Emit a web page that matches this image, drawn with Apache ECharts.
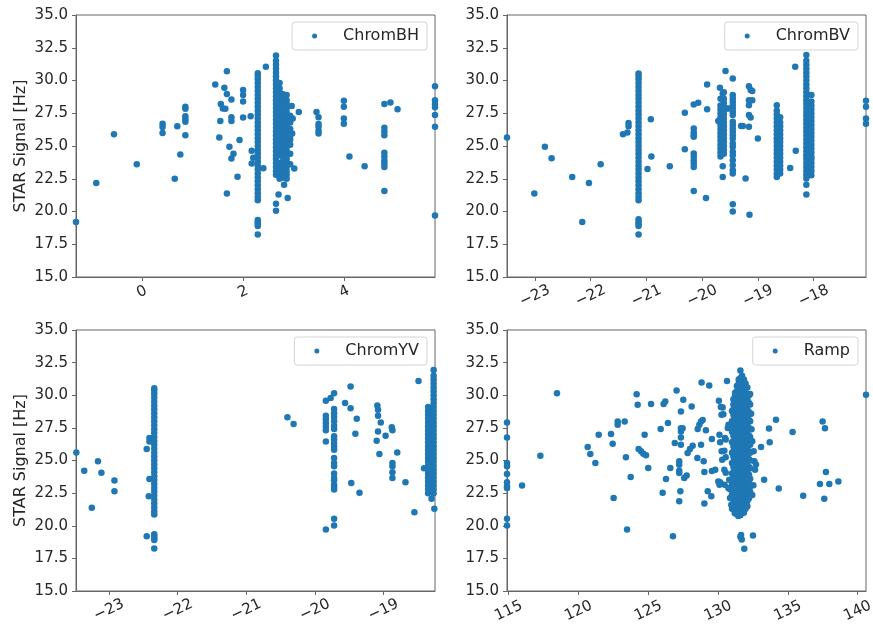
<!DOCTYPE html>
<html>
<head>
<meta charset="utf-8">
<script src="https://cdn.jsdelivr.net/npm/echarts@6/dist/echarts.min.js"></script>
<style>
html,body{margin:0;padding:0;background:#fff;}
#chart{width:873px;height:628px;}
</style>
</head>
<body>
<div id="chart"></div>
<script>
// ---------------- DATA ----------------
const seriesNames = ['ChromBH', 'ChromBV', 'ChromYV', 'Ramp'];
const yTicks = [15, 17.5, 20, 22.5, 25, 27.5, 30, 32.5, 35];
const bhTicks = [0, 2, 4];
const bvTicks = [-23, -22, -21, -20, -19, -18];
const yvTicks = [-23, -22, -21, -20, -19];
const rampTicks = [115, 120, 125, 130, 135, 140];
const xRanges = [[-1.3, 5.79], [-23.5, -17.06], [-23.48, -18.25], [114.88, 140.6]];

// ChromBH scattered points
const bhPoints = [
  [-1.30,19.2],[-0.90,22.18],[-0.55,25.9],[-0.10,23.6],
  [0.41,26.7],[0.41,26.45],[0.41,26.0],[0.65,22.5],[0.70,26.5],[0.76,24.35],
  [0.86,28.0],[0.86,27.85],[0.86,27.28],[0.86,27.05],[0.86,26.85],[0.86,25.83],
  [1.45,29.7],[1.53,25.65],[1.55,26.9],[1.56,28.2],[1.60,27.87],[1.63,29.45],[1.65,27.85],
  [1.68,30.7],[1.68,28.96],[1.68,21.37],[1.73,24.94],[1.77,28.55],[1.77,27.2],[1.77,26.9],
  [1.77,24.05],[1.81,24.4],[1.89,22.65],[1.93,25.45],
  [2.0,29.27],[2.0,28.9],[2.0,28.4],[2.0,27.18],[2.15,27.28],[2.17,24.63],[2.17,23.66],[2.20,24.1],
  [2.40,23.3],[2.45,31.05],[2.70,21.3],[2.81,22.05],[2.88,21.04],
  [2.96,28.05],[2.98,27.1],[3.01,23.28],[2.97,25.95],[3.10,27.6],
  [3.45,27.6],[3.49,27.2],[3.49,26.67],[3.49,26.47],[3.49,26.16],[3.49,25.95],
  [3.99,28.45],[3.99,28.0],[3.99,27.1],[3.99,26.7],[4.1,24.2],[4.4,23.45],
  [4.79,28.2],[4.79,26.4],[4.79,26.1],[4.79,25.83],[4.79,24.48],[4.79,24.2],[4.79,23.9],
  [4.79,23.66],[4.79,23.4],[4.79,21.57],[4.91,28.33],[5.05,27.8],
  [5.79,29.57],[5.79,28.5],[5.79,28.2],[5.79,27.95],[5.79,27.36],[5.79,26.47],[5.79,19.7]
];
const bhColumns = [
  {x:2.29, ys:[20.85,21.1,21.4,21.7,22.0,22.3,22.6,22.9,23.2,23.5,23.8,24.1,24.4,24.7,25.0,25.3,25.6,25.9,26.2,26.5,26.8,27.1,27.4,27.7,28.0,28.3,28.6,28.9,29.2,29.5,29.8,30.1,30.35,30.55,19.35,19.2,19.05,18.9,18.25]},
  {x:2.65, ys:[22.8,23.1,23.4,23.7,24.0,24.3,24.6,24.9,25.2,25.5,25.8,26.1,26.4,26.7,27.0,27.3,27.6,27.9,28.2,28.5,28.8,29.1,29.4,29.7,30.0,30.3,30.6,30.9,31.2,31.5,31.9,20.6,20.05]},
  {x:2.72, ys:[22.5,22.8,23.1,23.4,23.7,24.3,24.6,24.9,25.2,25.5,25.8,26.1,26.4,26.7,27.0,27.3,27.6,27.9,28.2,28.5,28.8,29.1,29.4,29.8]},
  {x:2.79, ys:[22.6,22.9,23.2,23.5,23.8,24.1,24.4,24.7,25.0,25.3,25.6,25.9,26.2,26.5,26.8,27.1,27.4,27.7,28.0,28.3,28.6,28.95]},
  {x:2.86, ys:[22.5,22.8,23.1,23.4,23.7,24.0,24.3,24.6,24.9,25.2,25.5,25.8,26.1,26.4,26.7,27.0,27.3,27.6,27.9,28.2,28.5,28.9]},
  {x:2.93, ys:[23.6,24.4,25.1,25.5,25.8,26.3,26.8,27.3]}
];

// ChromBV
const bvPoints = [
  [-23.5,25.65],[-23.01,21.37],[-22.82,24.94],[-22.70,24.07],[-22.33,22.64],[-22.15,19.2],
  [-22.03,22.18],[-21.82,23.6],[-21.42,25.9],[-21.34,26.04],[-21.32,26.75],[-21.32,26.5],
  [-20.92,27.05],[-20.91,24.2],[-20.98,23.25],[-20.58,23.45],[-20.31,27.53],[-20.31,24.76],
  [-20.15,26.34],[-20.15,26.03],[-20.15,25.83],[-20.15,25.7],[-20.15,24.43],[-20.15,24.17],
  [-20.15,23.92],[-20.15,23.66],[-20.15,23.4],[-20.15,21.57],[-20.15,28.17],[-20.07,28.3],
  [-19.91,29.7],[-19.91,27.8],[-19.93,21.04],
  [-19.68,29.45],[-19.63,29.0],[-19.58,30.72],[-19.71,26.9],[-19.63,22.64],[-19.63,23.45],
  [-19.53,27.87],[-19.56,27.87],
  [-19.30,26.52],[-19.22,22.52],[-19.16,29.57],[-19.13,29.27],[-19.16,28.5],[-19.16,28.12],
  [-19.16,27.36],[-19.13,27.18],[-19.16,26.47],[-19.10,29.2],[-19.10,28.5],[-19.15,19.76],
  [-19.0,25.57],[-19.27,26.53],
  [-18.42,23.33],[-18.33,31.05],[-18.32,24.63],
  [-17.06,28.45],[-17.06,28.0],[-17.06,27.1],[-17.06,26.7]
];
const bvColumns = [
  {x:-21.14, ys:[20.86,21.1,21.4,21.7,22.0,22.3,22.6,22.9,23.2,23.5,23.8,24.1,24.4,24.7,25.0,25.3,25.6,25.9,26.2,26.5,26.8,27.1,27.4,27.7,28.0,28.3,28.6,28.9,29.2,29.5,29.8,30.1,30.35,30.54,19.4,19.2,19.05,18.9,18.25]},
  {x:-19.67, ys:[24.2,24.5,24.8,25.1,25.4,25.7,26.0,26.3,26.6,26.9,27.2,27.5,27.8,28.1,28.6]},
  {x:-19.61, ys:[24.4,24.7,25.0,25.3,25.6,25.9,26.2,26.5,26.8,27.1,27.4,27.7,28.0,28.3,28.6,29.1]},
  {x:-19.45, ys:[28.89,28.63,28.38,28.12,27.87,27.61,27.36,26.85,26.6,26.34,26.08,25.83,25.57,25.19,24.94,24.56,24.3,23.92,23.54,23.15,22.9,30.16,20.55,20.0]},
  {x:-18.66, ys:[22.64,22.9,23.2,23.5,23.8,24.1,24.4,24.7,25.0,25.3,25.6,25.9,26.2,26.5,26.8,27.1,27.4,27.7,28.12]},
  {x:-18.60, ys:[22.9,23.2,23.5,23.8,24.1,24.4,24.7,25.0,25.3,25.6,25.9,26.2,26.5,26.8,27.2]},
  {x:-18.13, ys:[22.52,22.8,23.1,23.4,23.7,24.0,24.3,24.6,24.9,25.2,25.5,25.8,26.1,26.4,26.7,27.0,27.3,27.6,27.9,28.2,28.5,28.8,29.1,29.4,29.7,30.0,30.3,30.6,30.9,31.2,31.5,31.94,22.05,21.3]},
  {x:-18.04, ys:[22.77,23.1,23.4,23.7,24.0,24.17,24.5,24.8,25.1,25.4,25.7,26.0,26.3,26.6,26.9,27.2,27.5,27.8,28.1,28.4,28.9]}
];

// ChromYV
const yvPoints = [
  [-23.475,25.62],[-23.36,24.22],[-23.25,21.37],[-23.16,24.94],[-23.11,24.07],[-22.92,23.46],
  [-22.92,22.64],[-22.45,25.88],[-22.41,26.72],[-22.41,26.46],[-22.41,23.59],[-22.42,22.26],[-22.45,19.2],
  [-20.40,28.32],[-20.31,27.79],
  [-19.84,29.57],[-19.84,28.43],[-19.84,28.17],[-19.84,27.87],[-19.84,27.61],[-19.84,27.31],
  [-19.84,26.46],[-19.84,19.71],[-19.77,29.78],[-19.72,30.16],
  [-19.56,29.4],[-19.48,30.67],[-19.48,29.01],[-19.47,23.28],[-19.39,28.2],[-19.41,27.05],[-19.35,22.52],
  [-19.09,29.22],[-19.08,28.89],[-19.08,28.43],[-19.04,27.92],[-19.08,27.23],[-19.10,26.52],
  [-19.06,25.5],[-18.97,26.9],[-18.88,27.54],[-18.87,27.31],[-18.87,24.8],[-18.87,24.55],
  [-18.87,24.1],[-18.87,23.66],[-18.80,25.62],[-18.68,23.33],[-18.55,21.04],[-18.49,31.1],
  [-18.41,24.4],[-18.30,22.06],[-18.26,21.3]
];
const yvColumns = [
  {x:-22.34, ys:[20.86,21.1,21.4,21.7,22.0,22.3,22.6,22.9,23.2,23.5,23.8,24.1,24.4,24.7,25.0,25.3,25.6,25.9,26.2,26.5,26.8,27.1,27.4,27.7,28.0,28.3,28.6,28.9,29.2,29.5,29.8,30.1,30.35,30.54,19.35,19.2,19.0,18.9,18.25]},
  {x:-19.72, ys:[28.94,28.63,28.33,28.0,27.66,27.41,26.85,26.6,26.34,26.08,25.83,25.19,24.8,24.55,24.0,23.66,23.48,23.15,22.97,22.77,20.53,20.02]},
  {x:-18.35, ys:[22.5,22.8,23.1,23.4,23.7,24.0,24.3,24.6,24.9,25.2,25.5,25.8,26.1,26.4,26.7,27.0,27.3,27.6,27.9,28.2,28.5,28.8,29.1]},
  {x:-18.27, ys:[22.5,22.8,23.1,23.4,23.7,24.0,24.3,24.6,24.9,25.2,25.5,25.8,26.1,26.4,26.7,27.0,27.3,27.6,27.9,28.2,28.5,28.8,29.1,29.4,29.7,30.0,30.3,30.6,30.9,31.2,31.5,31.94]}
];

// Ramp
const rampPoints = [
  [114.88,27.92],[114.88,26.77],[114.88,24.8],[114.88,24.55],[114.88,23.97],[114.88,23.33],
  [114.88,23.03],[114.88,22.9],[114.88,20.53],[114.88,20.02],
  [115.96,23.08],[117.27,25.37],[118.46,30.16],[120.66,26.03],[120.85,25.5],[121.21,24.8],
  [121.45,26.97],[122.33,27.03],[122.45,26.28],[122.52,22.13],[122.81,27.99],[122.81,27.74],
  [123.31,27.99],[123.4,25.24],[123.48,19.71],[123.74,23.73],[124.17,30.08],[124.24,29.27],
  [124.31,25.88],[124.48,25.7],[124.65,25.52],[124.84,25.4],[124.74,26.97],[125.0,24.43],
  [125.2,29.33],[125.89,27.41],[126.03,22.52],[126.1,29.33],[126.22,29.52],[126.27,23.59],
  [126.41,27.87],[126.58,24.43],[126.77,19.2],[126.9,26.34],[127.03,30.36],[127.22,24.94],
  [127.22,24.68],[127.22,24.22],[127.22,24.04],[127.34,28.76],[127.34,27.48],[127.34,27.23],
  [127.34,26.77],[127.34,26.21],[127.51,29.65],[127.46,27.48],[127.3,22.64],[127.22,21.88],
  [127.58,23.66],[127.75,23.86],[127.82,25.57],[127.99,25.88],[128.18,26.13],[128.11,29.14],
  [128.54,27.41],[128.66,27.74],[128.78,27.99],[128.9,28.1],[128.82,30.97],[128.78,26.21],
  [128.52,25.19],[128.97,24.94],[129.02,24.12],[129.02,21.7],[129.13,27.31],[129.26,22.64],
  [129.37,30.74],[129.52,22.26],[129.56,26.64],[129.56,24.2],[129.8,24.3],[130.06,29.57],
  [130.1,26.97],[130.15,26.39],[130.15,23.33],[130.33,29.06],[130.38,28.55],[130.45,25.75],
  [130.47,23.15],[130.5,26.72],[130.55,25.24],[130.55,24.07],[130.64,31.1],[130.8,23.53],[130.85,22.8],
  [130.2,29.1],[130.25,28.5],[130.26,25.7],[130.3,25.06],[130.55,26.6],[130.45,24.3],[130.7,27.5],
  [130.75,27.74],[130.02,23.4],[130.1,23.15],[130.74,22.9],[130.86,22.13],[131.07,21.6],
  [130.95,21.6],[131.0,21.3],[131.2,20.95],[131.45,20.75],
  [131.6,19.15],[131.7,18.95],[131.65,19.3],[131.88,18.24],[132.5,19.25],
  [132.3,30.1],[132.37,28.58],[132.4,27.4],[132.45,26.47],[132.55,25.7],[132.6,24.94],[132.72,24.7],
  [132.65,24.3],[132.53,23.1],[132.45,22.35],
  [133.08,26.03],[133.3,23.53],[133.65,27.46],[133.7,26.39],[134.15,28.12],[134.35,22.85],
  [135.34,27.18],[136.1,22.3],[137.3,23.2],[137.49,27.99],[137.61,22.06],[137.66,27.48],
  [137.73,24.12],[137.97,23.2],[138.62,23.4],[140.6,30.03]
];
const rampColumns = [
  {x:131.0, ys:[22.4,23.2,24.0,24.8,25.6,26.4,27.2,28.0,28.8]},
  {x:131.1, ys:[21.3,21.7,22.1,22.5,22.9,23.3,23.7,24.1,24.5,24.9,25.3,25.7,26.1,26.5,26.9,27.3,27.7,28.1,28.5,28.9,29.3,29.7]},
  {x:131.22, ys:[21.1,21.5,21.9,22.3,22.7,23.1,23.5,23.9,24.3,24.7,25.1,25.5,25.9,26.3,26.7,27.1,27.5,27.9,28.3,28.7,29.1,29.5,29.9,30.2]},
  {x:131.35, ys:[20.9,21.1,21.5,21.9,22.3,22.7,23.1,23.5,23.9,24.3,24.7,25.1,25.5,25.9,26.3,26.7,27.1,27.5,27.9,28.3,28.7,29.1,29.5,29.9,30.3,30.7]},
  {x:131.48, ys:[21.0,21.3,21.7,22.1,22.5,22.9,23.3,23.7,24.1,24.5,24.9,25.3,25.7,26.1,26.5,26.9,27.3,27.7,28.1,28.5,28.9,29.3,29.7,30.1,30.5,30.9,31.2]},
  {x:131.6, ys:[20.8,21.3,21.7,22.1,22.5,22.9,23.3,23.7,24.1,24.5,24.9,25.3,25.7,26.1,26.5,26.9,27.3,27.7,28.1,28.5,28.9,29.3,29.7,30.1,30.5,30.9,31.3,31.9]},
  {x:131.72, ys:[21.1,21.5,21.9,22.3,22.7,23.1,23.5,23.9,24.3,24.7,25.1,25.5,25.9,26.3,26.7,27.1,27.5,27.9,28.3,28.7,29.1,29.5,29.9,30.3,30.7,31.1,31.5]},
  {x:131.85, ys:[21.0,21.5,21.9,22.3,22.7,23.1,23.5,23.9,24.3,24.7,25.1,25.5,25.9,26.3,26.7,27.1,27.5,27.9,28.3,28.7,29.1,29.5,29.9,30.3,30.7,31.2]},
  {x:131.97, ys:[21.3,21.7,22.1,22.5,22.9,23.3,23.7,24.1,24.5,24.9,25.3,25.7,26.1,26.5,26.9,27.3,27.7,28.1,28.5,28.9,29.3,29.7,30.1,30.5,30.9]},
  {x:132.1, ys:[21.5,21.9,22.5,22.9,23.3,23.7,24.1,24.5,24.9,25.3,25.7,26.1,26.5,26.9,27.3,27.7,28.1,28.5,28.9,29.3,29.7,30.1,30.6]},
  {x:132.22, ys:[22.1,22.7,23.3,23.9,24.5,25.1,25.7,26.3,26.9,27.5,28.1,28.7,29.4,30.0]},
  {x:132.3, ys:[22.6,23.0,23.6,24.4,25.0,25.6,26.2,26.8,27.4,28.0,28.6,29.3]}
];

// ---------------- BUILD ----------------
function buildData(points, columns) {
  const out = points.slice();
  columns.forEach(c => c.ys.forEach(y => out.push([c.x, y])));
  return out;
}
const allData = [
  buildData(bhPoints, bhColumns),
  buildData(bvPoints, bvColumns),
  buildData(yvPoints, yvColumns),
  buildData(rampPoints, rampColumns)
];
const xTickSets = [bhTicks, bvTicks, yvTicks, rampTicks];

const FONT = 'DejaVu Sans';
const TXT = '#262626';
const SPINE = '#666666';
const BLUE = '#1f77b4';

const grids = [
  {left: 76, top: 15, width: 359, height: 262},
  {left: 507, top: 15, width: 359, height: 262},
  {left: 76, top: 330, width: 359, height: 261},
  {left: 507, top: 330, width: 359, height: 261}
].map(g => Object.assign(g, {show: true, borderColor: SPINE, borderWidth: 1, containLabel: false, outerBoundsMode: 'none'}));

const xMargins = [15, 19, 19, 20];
const xAxes = xTickSets.map((ticks, i) => ({
  type: 'value', gridIndex: i, min: xRanges[i][0], max: xRanges[i][1],
  splitLine: {show: false},
  axisLine: {show: true, onZero: false, lineStyle: {color: SPINE, width: 1}},
  axisTick: {show: true, length: 4, lineStyle: {color: SPINE}, customValues: ticks},
  axisLabel: {
    customValues: ticks, rotate: 25, align: 'center', verticalAlign: 'middle',
    margin: xMargins[i], fontSize: 15, fontFamily: FONT, color: TXT,
    formatter: v => String(v).replace('-', '\u2212')
  }
}));

const yAxes = [0, 1, 2, 3].map(i => ({
  type: 'value', gridIndex: i, min: yTicks[0], max: yTicks[yTicks.length - 1], interval: 2.5,
  splitLine: {show: false},
  axisLine: {show: true, onZero: false, lineStyle: {color: SPINE, width: 1}},
  axisTick: {show: true, length: 4, lineStyle: {color: SPINE}},
  axisLabel: {fontSize: 15, fontFamily: FONT, color: TXT, margin: 8, formatter: v => v.toFixed(1)},
  name: (i % 2 === 0) ? 'STAR Signal [Hz]' : '',
  nameLocation: 'middle', nameGap: 47, nameRotate: 90,
  nameTextStyle: {fontSize: 16, fontFamily: FONT, color: TXT}
}));

const legendRight = [446, 15, 446, 15];
const legendTop = [22, 22, 337, 337];
const legends = seriesNames.map((n, i) => ({
  data: [n], right: legendRight[i], top: legendTop[i], icon: 'circle',
  itemWidth: 5, itemHeight: 5, selectedMode: false,
  padding: [6, 8, 6, 20],
  borderColor: '#d5d5d5', borderWidth: 1, borderRadius: 3,
  backgroundColor: 'rgba(255,255,255,0.8)',
  textStyle: {fontSize: 16, fontFamily: FONT, color: TXT, padding: [0, 0, 0, 21]}
}));

const series = seriesNames.map((n, i) => ({
  name: n, type: 'scatter', xAxisIndex: i, yAxisIndex: i,
  data: allData[i], symbol: 'circle', symbolSize: 6.5,
  itemStyle: {color: BLUE, opacity: 1},
  emphasis: {disabled: true}, animation: false
}));

const chart = echarts.init(document.getElementById('chart'), null, {renderer: 'canvas'});
chart.setOption({
  backgroundColor: '#ffffff',
  animation: false,
  textStyle: {fontFamily: FONT},
  grid: grids, xAxis: xAxes, yAxis: yAxes, legend: legends, series: series
});
</script>
</body>
</html>
